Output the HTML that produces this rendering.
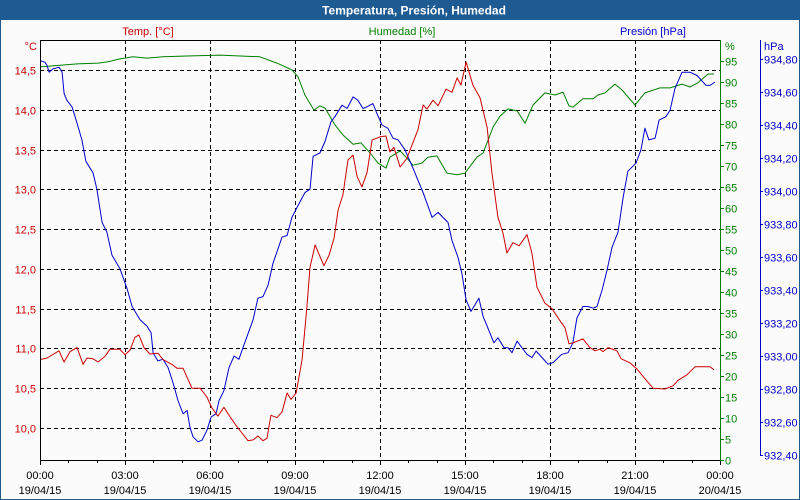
<!DOCTYPE html>
<html><head><meta charset="utf-8"><style>
body{margin:0;background:#fff;}
svg{display:block;font-family:"Liberation Sans",sans-serif;}
</style></head><body>
<svg id="chart" width="800" height="500" viewBox="0 0 800 500" xmlns="http://www.w3.org/2000/svg">
<rect x="0" y="0" width="800" height="500" fill="#fbfbfb" stroke="#1e5b92" stroke-width="2"/>
<rect x="0" y="0" width="800" height="20" fill="#1e5b92"/>
<text x="414" y="14.5" text-anchor="middle" fill="#fff" font-weight="bold" font-size="12">Temperatura, Presión, Humedad</text>
<text x="148" y="35" text-anchor="middle" fill="#cc0000" font-size="11">Temp. [°C]</text>
<text x="402" y="35" text-anchor="middle" fill="#008000" font-size="11">Humedad [%]</text>
<text x="686" y="35" text-anchor="end" fill="#0000cc" font-size="11">Presión [hPa]</text>
<text x="37" y="50" text-anchor="end" fill="#cc0000" font-size="11">°C</text>
<text x="725" y="50" fill="#008000" font-size="11">%</text>
<text x="764" y="50" fill="#0000cc" font-size="11">hPa</text>
<g id="grid"></g>
<g id="series"></g>
<g id="axes"></g>
</svg>
<script>
const tempTimes=[0,.25,.67,.85,1.06,1.31,1.52,1.66,1.87,2.05,2.29,2.47,2.82,3.0,3.18,3.35,3.49,3.67,3.88,4.16,4.34,4.66,4.84,5.05,5.36,5.65,5.89,6.07,6.28,6.49,6.71,6.99,7.34,7.52,7.69,7.87,8.01,8.15,8.36,8.54,8.72,8.86,9.04,9.25,9.42,9.53,9.71,10.02,10.2,10.38,10.52,10.69,10.87,11.05,11.19,11.36,11.54,11.72,12.0,12.21,12.35,12.49,12.71,12.95,13.34,13.52,13.66,13.87,14.05,14.33,14.54,14.72,14.86,15.04,15.28,15.53,15.78,15.95,16.16,16.34,16.48,16.69,16.91,17.19,17.36,17.54,17.82,18.07,18.35,18.53,18.67,18.81,19.16,19.41,19.59,19.76,19.87,20.05,20.36,20.51,20.82,21.07,21.42,21.64,22.06,22.34,22.52,22.84,23.12,23.65,23.79];
const tempValues=[10.86,10.88,10.97,10.83,10.96,11.01,10.80,10.88,10.87,10.83,10.90,10.99,10.99,10.92,10.98,11.14,11.17,11.01,10.93,10.94,10.86,10.80,10.75,10.75,10.50,10.50,10.39,10.25,10.15,10.26,10.14,10.00,9.84,9.85,9.90,9.84,9.87,10.16,10.13,10.20,10.44,10.36,10.44,10.86,11.52,12.02,12.30,12.04,12.17,12.39,12.74,12.93,13.37,13.43,13.16,13.03,13.21,13.62,13.66,13.67,13.47,13.53,13.28,13.39,13.75,14.06,14.01,14.12,14.05,14.26,14.22,14.40,14.31,14.60,14.31,14.15,13.78,13.21,12.65,12.45,12.20,12.33,12.29,12.43,12.20,11.77,11.57,11.50,11.35,11.26,11.06,11.07,11.12,11.01,10.97,10.99,10.96,11.01,10.97,10.87,10.82,10.74,10.59,10.50,10.49,10.53,10.60,10.67,10.77,10.77,10.73];
const humTimes=[0,.71,1.31,2.05,2.4,2.82,3.28,3.78,4.34,5.19,6.35,7.76,8.36,8.89,9.11,9.35,9.67,9.88,10.06,10.41,10.69,11.05,11.33,11.65,11.93,12.21,12.35,12.71,12.92,13.16,13.48,13.69,14.01,14.36,14.72,15.0,15.42,15.64,15.99,16.24,16.52,16.84,17.12,17.4,17.82,18.18,18.46,18.67,18.81,19.16,19.52,19.69,19.94,20.29,20.54,21.0,21.35,21.88,22.24,22.66,22.94,23.22,23.58,23.79];
const humValues=[93.6,94.0,94.3,94.5,94.8,95.5,96.0,95.7,96.0,96.2,96.4,96.0,94.5,92.9,91.2,86.9,83.3,84.3,83.8,79.8,77.4,75.2,75.5,73.1,70.7,69.5,72.1,73.6,72.1,70.2,70.7,72.1,72.4,68.3,67.9,68.3,72.1,73.1,79.3,81.9,83.6,83.1,80.2,84.5,87.4,86.9,87.6,84.3,84.0,86.0,86.0,86.9,87.4,89.5,88.1,84.5,87.4,88.6,88.6,89.5,88.8,89.8,91.9,91.9];
const presTimes=[0,.18,.25,.32,.46,.67,.78,.85,.95,1.13,1.31,1.48,1.62,1.87,2.01,2.19,2.36,2.54,2.82,3.07,3.25,3.53,3.78,3.92,3.99,4.16,4.34,4.52,4.69,4.87,5.05,5.19,5.29,5.4,5.58,5.72,5.89,6.04,6.21,6.32,6.49,6.67,6.85,7.02,7.16,7.52,7.69,7.87,8.05,8.22,8.54,8.72,8.89,9.07,9.35,9.53,9.64,9.88,10.06,10.27,10.41,10.66,10.84,11.05,11.22,11.4,11.54,11.75,11.89,12.07,12.28,12.46,12.64,12.88,13.16,13.52,13.84,14.05,14.22,14.4,14.54,14.75,14.89,15.04,15.21,15.35,15.49,15.64,15.88,16.02,16.16,16.38,16.52,16.66,16.84,17.01,17.19,17.36,17.51,17.72,17.93,18.11,18.35,18.42,18.64,18.81,18.95,19.16,19.34,19.52,19.66,19.84,20.01,20.19,20.4,20.58,20.75,21.04,21.21,21.35,21.49,21.71,21.85,22.09,22.24,22.41,22.66,22.94,23.19,23.51,23.65,23.82];
const presValues=[934.79,934.78,934.76,934.72,934.74,934.75,934.72,934.59,934.55,934.51,934.41,934.31,934.18,934.11,934.01,933.81,933.75,933.61,933.53,933.41,933.30,933.22,933.18,933.14,933.02,932.97,932.98,932.93,932.84,932.73,932.65,932.67,932.57,932.51,932.48,932.49,932.55,932.63,932.65,932.73,932.79,932.93,933.00,932.98,933.05,933.22,933.35,933.36,933.43,933.56,933.72,933.73,933.84,933.90,933.99,934.01,934.21,934.23,934.30,934.42,934.45,934.52,934.50,934.57,934.55,934.50,934.51,934.53,934.47,934.40,934.38,934.32,934.31,934.25,934.14,933.99,933.84,933.87,933.84,933.81,933.70,933.60,933.50,933.34,933.27,933.31,933.35,933.24,933.14,933.08,933.11,933.05,933.05,933.02,933.09,933.05,933.01,932.99,933.03,932.99,932.95,932.96,933.00,933.01,933.02,933.08,933.23,933.30,933.30,933.29,933.30,933.40,933.52,933.66,933.75,933.96,934.12,934.17,934.25,934.38,934.31,934.32,934.43,934.45,934.49,934.62,934.72,934.72,934.70,934.64,934.64,934.66];
const tempTicks=["10,0","10,5","11,0","11,5","12,0","12,5","13,0","13,5","14,0","14,5"];
const tempTickValues=[10,10.5,11,11.5,12,12.5,13,13.5,14,14.5];
const humTicks=[0,5,10,15,20,25,30,35,40,45,50,55,60,65,70,75,80,85,90,95];
const presTicks=[932.4,932.6,932.8,933.0,933.2,933.4,933.6,933.8,934.0,934.2,934.4,934.6,934.8];
const timeLabels=["00:00","03:00","06:00","09:00","12:00","15:00","18:00","21:00","00:00"];
const dateLabels=["19/04/15","19/04/15","19/04/15","19/04/15","19/04/15","19/04/15","19/04/15","19/04/15","20/04/15"];

const L=40,R=720,T=40,B=460;
const xS=h=>L+h*(R-L)/24;
const yT=v=>428-(v-10)*79.56;
const yH=v=>B-v*4.2;
const yP=v=>455-(v-932.4)*165;
const NS="http://www.w3.org/2000/svg";
function mk(tag,attrs,parent){const e=document.createElementNS(NS,tag);for(const k in attrs)e.setAttribute(k,attrs[k]);parent.appendChild(e);return e;}
const grid=document.getElementById('grid'),series=document.getElementById('series'),axes=document.getElementById('axes');

tempTickValues.forEach((v,i)=>{
  const y=Math.round(yT(v))+.5;
  const g=mk('line',{x1:L,x2:R,y1:y,y2:y,stroke:'#000','stroke-dasharray':'4,3','stroke-width':1},grid);
  
  
  const t=mk('text',{x:36,y:y+4,'text-anchor':'end',fill:'#cc0000','font-size':11},axes);
  t.textContent=tempTicks[i];
  
  
});
for(let i=1;i<8;i++){
  const x=Math.round(xS(i*3))+.5;
  const g=mk('line',{x1:x,x2:x,y1:T,y2:B,stroke:'#000','stroke-dasharray':'4,3','stroke-width':1},grid);
  
  
}
timeLabels.forEach((lab,i)=>{
  const x=xS(i*3);
  const t=mk('text',{x:x,y:479,'text-anchor':'middle',fill:'#000','font-size':11},axes);
  t.textContent=lab;
  
  
  const d=mk('text',{x:x,y:494,'text-anchor':'middle',fill:'#000','font-size':11},axes);
  d.textContent=dateLabels[i];
  
  
});
for(let h=0;h<=24;h++){
  const x=Math.round(xS(h))+.5;
  const tk=mk('line',{x1:x,x2:x,y1:B,y2:B+(h%3==0?5:3),stroke:'#000'},axes);
  
  
}
humTicks.forEach(v=>{
  const y=Math.round(yH(v))+.5;
  const tk=mk('line',{x1:R,x2:R+4,y1:y,y2:y,stroke:'#008000'},axes);
  
  
  const t=mk('text',{x:725,y:y+4,fill:'#008000','font-size':11},axes);
  t.textContent=v;
  
  
});
presTicks.forEach(v=>{
  const y=Math.round(yP(v))+.5;
  const tk=mk('line',{x1:760,x2:763,y1:y,y2:y,stroke:'#0000cc'},axes);
  
  
  const t=mk('text',{x:764,y:y+4,fill:'#0000cc','font-size':11},axes);
  t.textContent=v.toFixed(2).replace('.',',');
  
  
});
let a;
a=mk('line',{x1:L+.5,x2:L+.5,y1:T,y2:B,stroke:'#000'},axes);


a=mk('line',{x1:L,x2:R,y1:T+.5,y2:T+.5,stroke:'#000'},axes);


a=mk('line',{x1:L,x2:R,y1:B+.5,y2:B+.5,stroke:'#000'},axes);


a=mk('line',{x1:R+.5,x2:R+.5,y1:T,y2:B,stroke:'#008000'},axes);


a=mk('line',{x1:760.5,x2:760.5,y1:T,y2:456,stroke:'#0000cc'},axes);



function line(times,vals,ys,color,name){
  const pts=times.map((h,i)=>xS(h).toFixed(1)+','+ys(vals[i]).toFixed(1)).join(' ');
  const p=mk('polyline',{points:pts,fill:'none',stroke:color,'stroke-width':1,'stroke-linejoin':'round'},series);
  
  
}
line(humTimes,humValues,yH,'#008000','humidity-line');
line(presTimes,presValues,yP,'#0000cc','pressure-line');
line(tempTimes,tempValues,yT,'#cc0000','temperature-line');
</script>
</body></html>
